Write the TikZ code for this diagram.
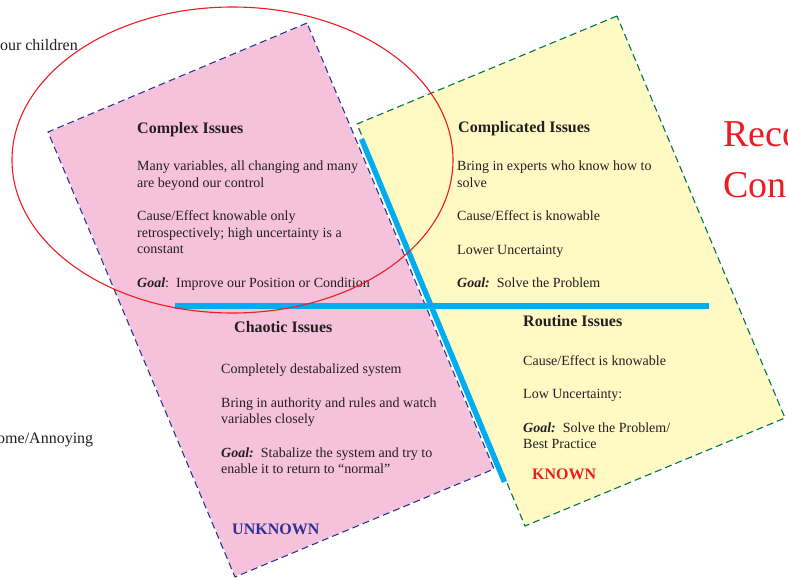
\documentclass[tikz,border=0pt]{standalone}
\usepackage{fontspec}
\setmainfont{Liberation Serif}
\usetikzlibrary{positioning}
\definecolor{pinkfill}{RGB}{246,193,218}
\definecolor{yellowfill}{RGB}{255,249,196}
\definecolor{navyedge}{RGB}{46,49,146}
\definecolor{greenedge}{RGB}{0,118,58}
\definecolor{dividerblue}{RGB}{0,174,239}
\definecolor{alertred}{RGB}{237,28,36}
\definecolor{inktext}{RGB}{35,31,32}

\tikzset{
  issuehead/.style={anchor=north west, inner sep=0pt, text=inktext,
    font=\fontsize{16}{19}\selectfont\bfseries},
  issuebody/.style={anchor=north west, inner sep=0pt, align=left, text=inktext,
    font=\fontsize{14}{16.5}\selectfont},
  issueedge/.style={line width=1.1pt, dash pattern=on 7pt off 4pt},
  divider/.style={dividerblue, line width=5.4pt},
}
\newcommand{\goalword}{\textbf{\textit{Goal:}}}

\begin{document}
\begin{tikzpicture}[x=1pt,y=-1pt]
\useasboundingbox (0,0) rectangle (788,579);
\clip (0,0) rectangle (788,579);
% the two tilted cards
\fill [pinkfill] (307,23) -- (48,132) -- (235,577) -- (494,469) -- cycle;
\draw [white, line width=1.1pt] (307,23) -- (48,132) -- (235,577) -- (494,469) -- cycle;
\draw [navyedge, issueedge] (307,23) -- (48,132) -- (235,577) -- (494,469) -- cycle;
\fill [yellowfill] (617,16) -- (357,124) -- (525,526) -- (785,418) -- cycle;
\draw [white, line width=1.1pt] (617,16) -- (357,124) -- (525,526) -- (785,418) -- cycle;
\draw [greenedge, issueedge] (617,16) -- (357,124) -- (525,526) -- (785,418) -- cycle;
% dividing lines
\coordinate (hl) at (175,306);
\coordinate (hr) at (709,306);
\coordinate (dt) at (361.5,139);
\coordinate (db) at (504.5,482);
\draw [divider] (hl) -- (hr);
\draw [divider] (dt) -- (db);
% complex
\node (complexhead) [issuehead] at (137,122) {Complex Issues};
\node (complexbody) [issuebody] at (137,161) {Many variables, all changing and many\\
are beyond our control\\[17pt]
Cause/Effect knowable only\\
retrospectively; high uncertainty is a\\
constant\\[17pt]
\textbf{\textit{Goal}}:\ \ Improve our Position or Condition};
% complicated
\node (complicatedhead) [issuehead] at (458,121) {Complicated Issues};
\node (complicatedbody) [issuebody] at (457,161) {Bring in experts who know how to\\
solve\\[17pt]
Cause/Effect is knowable\\[17pt]
Lower Uncertainty\\[17pt]
\goalword\ \ Solve the Problem};
% chaotic
\node (chaotichead) [issuehead] at (234,321) {Chaotic Issues};
\node (chaoticbody) [issuebody] at (221,364) {Completely destabalized system\\[17pt]
Bring in authority and rules and watch\\
variables closely\\[17pt]
\goalword\ \ Stabalize the system and try to\\
enable it to return to ``normal''};
\node (unknownlabel) [issuehead, text=navyedge] at (232,524) {UNKNOWN};
% routine
\node (routinehead) [issuehead] at (523,315) {Routine Issues};
\node (routinebody) [issuebody] at (523,355) {Cause/Effect is knowable\\[17pt]
Low Uncertainty:\\[17pt]
\goalword\ \ Solve the Problem/\\
Best Practice};
\node (knownlabel) [issuehead, text=alertred] at (532,469) {KNOWN};
% cut-off texts at the edges
\node (childrennote) [anchor=base east, inner sep=0pt, text=inktext, font=\fontsize{16}{19}\selectfont] at (78,50) {our children};
\node (annoyingnote) [anchor=base west, inner sep=0pt, text=inktext, font=\fontsize{16}{19}\selectfont] at (-3,443) {ome/Annoying};
\node (recotitle) [anchor=base west, inner sep=0pt, text=alertred, font=\fontsize{38}{46}\selectfont] at (723,146) {Reco};
\node (contitle) [anchor=base west, inner sep=0pt, text=alertred, font=\fontsize{38}{46}\selectfont] at (723,197) {Con};
% highlight ring
\draw [alertred, line width=1.1pt] (232.5,160) ellipse [x radius=220.5, y radius=153];
\end{tikzpicture}
\end{document}
